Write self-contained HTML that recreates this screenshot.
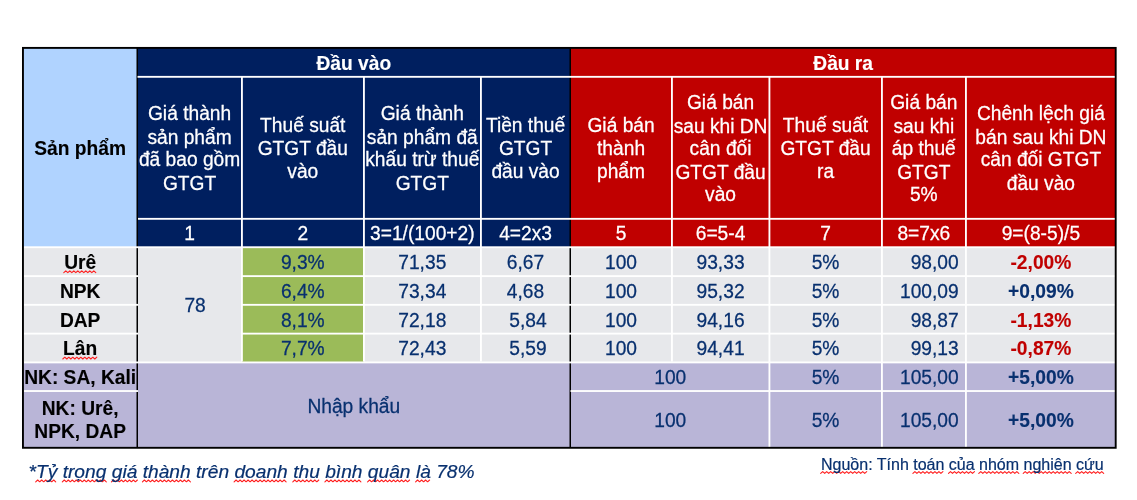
<!DOCTYPE html>
<html lang="vi"><head><meta charset="utf-8"><title>Bảng GTGT</title>
<style>
html,body{margin:0;padding:0;background:#fff;}
body{width:1137px;height:500px;position:relative;overflow:hidden;font-family:"Liberation Sans",Arial,sans-serif;font-size:19.2px;line-height:23px;}
svg{position:absolute;left:0;top:0;}
.c{position:absolute;display:flex;align-items:center;justify-content:center;text-align:center;white-space:nowrap;}
.c span{display:inline-block;-webkit-text-stroke:0.25px currentColor;}
.s1{transform:scaleY(1.04);transform-origin:50% 78.9%;}
.sm{transform:scaleY(1.02);transform-origin:50% 50%;line-height:22.55px;}
.b{font-weight:bold;}
.b span{-webkit-text-stroke-width:0.12px;}
.w{color:#fff;}
.k{color:#000;}
.d{color:#08306F;}
.r{color:#C00000;}
u{text-decoration:none;}
.n{position:absolute;white-space:nowrap;color:#08306F;-webkit-text-stroke:0.2px currentColor;}
</style></head><body>
<svg width="1137" height="500" viewBox="0 0 1137 500">
<rect x="23" y="48" width="114.5" height="199.5" fill="#B0D3FF"/>
<rect x="137.5" y="48" width="433" height="199.5" fill="#001F5F"/>
<rect x="570.5" y="48" width="545.2" height="199.5" fill="#C00000"/>
<rect x="23" y="247" width="1092.7" height="115.5" fill="#E7E8EB"/>
<rect x="242" y="247" width="121.5" height="115.5" fill="#9BBB59"/>
<rect x="23" y="362" width="1092.7" height="85.8" fill="#B9B5D7"/>
<rect x="136.5" y="48" width="1.5" height="399.8" fill="#000000"/>
<rect x="569.5" y="48" width="1.5" height="399.8" fill="#000000"/>
<rect x="241" y="76.2" width="1.85" height="285.3" fill="#FFFFFF"/>
<rect x="363" y="76.2" width="1.85" height="285.3" fill="#FFFFFF"/>
<rect x="480" y="76.2" width="1.85" height="285.3" fill="#FFFFFF"/>
<rect x="671" y="76.2" width="1.85" height="285.3" fill="#FFFFFF"/>
<rect x="768.5" y="76.2" width="1.85" height="371.2" fill="#FFFFFF"/>
<rect x="881" y="76.2" width="1.85" height="371.2" fill="#FFFFFF"/>
<rect x="965" y="76.2" width="1.85" height="371.2" fill="#FFFFFF"/>
<rect x="137.5" y="75.9" width="977.5" height="1.85" fill="#FFFFFF"/>
<rect x="138" y="217.9" width="977" height="1.85" fill="#FFFFFF"/>
<rect x="24" y="246.3" width="1091" height="1.85" fill="#FFFFFF"/>
<rect x="24" y="275.2" width="114" height="1.85" fill="#FFFFFF"/>
<rect x="241" y="275.2" width="874" height="1.85" fill="#FFFFFF"/>
<rect x="24" y="303.9" width="114" height="1.85" fill="#FFFFFF"/>
<rect x="241" y="303.9" width="874" height="1.85" fill="#FFFFFF"/>
<rect x="24" y="332.7" width="114" height="1.85" fill="#FFFFFF"/>
<rect x="241" y="332.7" width="874" height="1.85" fill="#FFFFFF"/>
<rect x="24" y="361.5" width="1091" height="1.85" fill="#FFFFFF"/>
<rect x="24" y="390.1" width="114" height="1.85" fill="#FFFFFF"/>
<rect x="570.5" y="390.1" width="544.5" height="1.85" fill="#FFFFFF"/>
<rect x="22.95" y="47.9" width="1092.75" height="399.9" fill="none" stroke="#000" stroke-width="1.9"/>
<polyline points="63.8,272.6 65.8,270.8 67.8,272.6 69.8,270.8 71.8,272.6 73.8,270.8 75.8,272.6 77.8,270.8 79.8,272.6 81.8,270.8 83.8,272.6 85.8,270.8 87.8,272.6 89.8,270.8 91.8,272.6 93.8,270.8 95.8,272.6" fill="none" stroke="#FF1E1E" stroke-width="1.1" stroke-linejoin="round" stroke-linecap="round"/>
<polyline points="62.8,359.0 64.8,357.2 66.8,359.0 68.8,357.2 70.8,359.0 72.8,357.2 74.8,359.0 76.8,357.2 78.8,359.0 80.8,357.2 82.8,359.0 84.8,357.2 86.8,359.0 88.8,357.2 90.8,359.0 92.8,357.2 94.8,359.0 96.8,357.2" fill="none" stroke="#FF1E1E" stroke-width="1.1" stroke-linejoin="round" stroke-linecap="round"/>
<polyline points="35.7,481.8 37.7,480.0 39.7,481.8 41.7,480.0 43.7,481.8 45.7,480.0 47.7,481.8 49.7,480.0 51.7,481.8 53.7,480.0 55.7,481.8" fill="none" stroke="#FF1E1E" stroke-width="1.1" stroke-linejoin="round" stroke-linecap="round"/>
<polyline points="62.3,481.8 64.3,480.0 66.3,481.8 68.3,480.0 70.3,481.8 72.3,480.0 74.3,481.8 76.3,480.0 78.3,481.8 80.3,480.0 82.3,481.8 84.3,480.0 86.3,481.8 88.3,480.0 90.3,481.8 92.3,480.0 94.3,481.8 96.3,480.0 98.3,481.8 100.3,480.0 102.3,481.8 104.3,480.0 106.3,481.8" fill="none" stroke="#FF1E1E" stroke-width="1.1" stroke-linejoin="round" stroke-linecap="round"/>
<polyline points="111.4,481.8 113.4,480.0 115.4,481.8 117.4,480.0 119.4,481.8 121.4,480.0 123.4,481.8 125.4,480.0 127.4,481.8 129.4,480.0 131.4,481.8 133.4,480.0 135.4,481.8 137.4,480.0" fill="none" stroke="#FF1E1E" stroke-width="1.1" stroke-linejoin="round" stroke-linecap="round"/>
<polyline points="142.4,481.8 144.4,480.0 146.4,481.8 148.4,480.0 150.4,481.8 152.4,480.0 154.4,481.8 156.4,480.0 158.4,481.8 160.4,480.0 162.4,481.8 164.4,480.0 166.4,481.8 168.4,480.0 170.4,481.8 172.4,480.0 174.4,481.8 176.4,480.0 178.4,481.8 180.4,480.0 182.4,481.8 184.4,480.0 186.4,481.8 188.4,480.0 190.4,481.8" fill="none" stroke="#FF1E1E" stroke-width="1.1" stroke-linejoin="round" stroke-linecap="round"/>
<polyline points="234.1,481.8 236.1,480.0 238.1,481.8 240.1,480.0 242.1,481.8 244.1,480.0 246.1,481.8 248.1,480.0 250.1,481.8 252.1,480.0 254.1,481.8 256.1,480.0 258.1,481.8 260.1,480.0 262.1,481.8 264.1,480.0 266.1,481.8 268.1,480.0 270.1,481.8 272.1,480.0 274.1,481.8 276.1,480.0 278.1,481.8 280.1,480.0 282.1,481.8 284.1,480.0 286.1,481.8" fill="none" stroke="#FF1E1E" stroke-width="1.1" stroke-linejoin="round" stroke-linecap="round"/>
<polyline points="292.8,481.8 294.8,480.0 296.8,481.8 298.8,480.0 300.8,481.8 302.8,480.0 304.8,481.8 306.8,480.0 308.8,481.8 310.8,480.0 312.8,481.8 314.8,480.0 316.8,481.8 318.8,480.0" fill="none" stroke="#FF1E1E" stroke-width="1.1" stroke-linejoin="round" stroke-linecap="round"/>
<polyline points="324.9,481.8 326.9,480.0 328.9,481.8 330.9,480.0 332.9,481.8 334.9,480.0 336.9,481.8 338.9,480.0 340.9,481.8 342.9,480.0 344.9,481.8 346.9,480.0 348.9,481.8 350.9,480.0 352.9,481.8 354.9,480.0 356.9,481.8 358.9,480.0 360.9,481.8" fill="none" stroke="#FF1E1E" stroke-width="1.1" stroke-linejoin="round" stroke-linecap="round"/>
<polyline points="367.6,481.8 369.6,480.0 371.6,481.8 373.6,480.0 375.6,481.8 377.6,480.0 379.6,481.8 381.6,480.0 383.6,481.8 385.6,480.0 387.6,481.8 389.6,480.0 391.6,481.8 393.6,480.0 395.6,481.8 397.6,480.0 399.6,481.8 401.6,480.0 403.6,481.8 405.6,480.0 407.6,481.8 409.6,480.0" fill="none" stroke="#FF1E1E" stroke-width="1.1" stroke-linejoin="round" stroke-linecap="round"/>
<polyline points="415.6,481.8 417.6,480.0 419.6,481.8 421.6,480.0 423.6,481.8 425.6,480.0 427.6,481.8 429.6,480.0" fill="none" stroke="#FF1E1E" stroke-width="1.1" stroke-linejoin="round" stroke-linecap="round"/>
<polyline points="820.7,473.4 822.7,471.6 824.7,473.4 826.7,471.6 828.7,473.4 830.7,471.6 832.7,473.4 834.7,471.6 836.7,473.4 838.7,471.6 840.7,473.4 842.7,471.6 844.7,473.4 846.7,471.6 848.7,473.4 850.7,471.6 852.7,473.4 854.7,471.6 856.7,473.4 858.7,471.6 860.7,473.4 862.7,471.6 864.7,473.4 866.7,471.6" fill="none" stroke="#FF1E1E" stroke-width="1.1" stroke-linejoin="round" stroke-linecap="round"/>
<polyline points="912.9,473.4 914.9,471.6 916.9,473.4 918.9,471.6 920.9,473.4 922.9,471.6 924.9,473.4 926.9,471.6 928.9,473.4 930.9,471.6 932.9,473.4 934.9,471.6 936.9,473.4 938.9,471.6 940.9,473.4 942.9,471.6" fill="none" stroke="#FF1E1E" stroke-width="1.1" stroke-linejoin="round" stroke-linecap="round"/>
<polyline points="948.5,473.4 950.5,471.6 952.5,473.4 954.5,471.6 956.5,473.4 958.5,471.6 960.5,473.4 962.5,471.6 964.5,473.4 966.5,471.6 968.5,473.4 970.5,471.6 972.5,473.4 974.5,471.6" fill="none" stroke="#FF1E1E" stroke-width="1.1" stroke-linejoin="round" stroke-linecap="round"/>
<polyline points="978.8,473.4 980.8,471.6 982.8,473.4 984.8,471.6 986.8,473.4 988.8,471.6 990.8,473.4 992.8,471.6 994.8,473.4 996.8,471.6 998.8,473.4 1000.8,471.6 1002.8,473.4 1004.8,471.6 1006.8,473.4 1008.8,471.6 1010.8,473.4 1012.8,471.6 1014.8,473.4 1016.8,471.6 1018.8,473.4" fill="none" stroke="#FF1E1E" stroke-width="1.1" stroke-linejoin="round" stroke-linecap="round"/>
<polyline points="1023.2,473.4 1025.2,471.6 1027.2,473.4 1029.2,471.6 1031.2,473.4 1033.2,471.6 1035.2,473.4 1037.2,471.6 1039.2,473.4 1041.2,471.6 1043.2,473.4 1045.2,471.6 1047.2,473.4 1049.2,471.6 1051.2,473.4 1053.2,471.6 1055.2,473.4 1057.2,471.6 1059.2,473.4 1061.2,471.6 1063.2,473.4 1065.2,471.6 1067.2,473.4 1069.2,471.6 1071.2,473.4" fill="none" stroke="#FF1E1E" stroke-width="1.1" stroke-linejoin="round" stroke-linecap="round"/>
<polyline points="1075.7,473.4 1077.7,471.6 1079.7,473.4 1081.7,471.6 1083.7,473.4 1085.7,471.6 1087.7,473.4 1089.7,471.6 1091.7,473.4 1093.7,471.6 1095.7,473.4 1097.7,471.6 1099.7,473.4 1101.7,471.6 1103.7,473.4" fill="none" stroke="#FF1E1E" stroke-width="1.1" stroke-linejoin="round" stroke-linecap="round"/>
</svg>
<div class="c b k" style="left:23.5px;top:49.6px;width:113.3px;height:197.4px;"><span class="s1">Sản phẩm</span></div>
<div class="c b w" style="left:137.3px;top:50.4px;width:433.0px;height:27px;"><span class="s1">Đầu vào</span></div>
<div class="c b w" style="left:571.3px;top:50.4px;width:543.7px;height:27px;"><span class="s1">Đầu ra</span></div>
<div class="c w" style="left:137.3px;top:78.8px;width:104.5px;height:140.8px;"><span class="sm">Giá thành<br>sản phẩm<br>đã bao gồm<br>GTGT</span></div>
<div class="c w" style="left:241.8px;top:78.8px;width:122.0px;height:140.8px;"><span class="sm">Thuế suất<br>GTGT đầu<br>vào</span></div>
<div class="c w" style="left:363.8px;top:78.8px;width:117.0px;height:140.8px;"><span class="sm">Giá thành<br>sản phẩm đã<br>khấu trừ thuế<br>GTGT</span></div>
<div class="c w" style="left:480.8px;top:78.8px;width:89.5px;height:140.8px;"><span class="sm">Tiền thuế<br>GTGT<br>đầu vào</span></div>
<div class="c w" style="left:570.3px;top:78.8px;width:101.5px;height:140.8px;"><span class="sm">Giá bán<br>thành<br>phẩm</span></div>
<div class="c w" style="left:671.8px;top:78.8px;width:97.5px;height:140.8px;"><span class="sm">Giá bán<br>sau khi DN<br>cân đối<br>GTGT đầu<br>vào</span></div>
<div class="c w" style="left:769.3px;top:78.8px;width:112.5px;height:140.8px;"><span class="sm">Thuế suất<br>GTGT đầu<br>ra</span></div>
<div class="c w" style="left:881.8px;top:78.8px;width:84.0px;height:140.8px;"><span class="sm">Giá bán<br>sau khi<br>áp thuế<br>GTGT<br>5%</span></div>
<div class="c w" style="left:966.8px;top:78.8px;width:148.2px;height:140.8px;"><span class="sm">Chênh lệch giá<br>bán sau khi DN<br>cân đối GTGT<br>đầu vào</span></div>
<div class="c w" style="left:137.3px;top:220.6px;width:104.5px;height:26.8px;"><span class="s1">1</span></div>
<div class="c w" style="left:241.8px;top:220.6px;width:122.0px;height:26.8px;"><span class="s1">2</span></div>
<div class="c w" style="left:363.8px;top:220.6px;width:117.0px;height:26.8px;"><span class="s1">3=1/(100+2)</span></div>
<div class="c w" style="left:480.8px;top:220.6px;width:89.5px;height:26.8px;"><span class="s1">4=2x3</span></div>
<div class="c w" style="left:570.3px;top:220.6px;width:101.5px;height:26.8px;"><span class="s1">5</span></div>
<div class="c w" style="left:671.8px;top:220.6px;width:97.5px;height:26.8px;"><span class="s1">6=5-4</span></div>
<div class="c w" style="left:769.3px;top:220.6px;width:112.5px;height:26.8px;"><span class="s1">7</span></div>
<div class="c w" style="left:881.8px;top:220.6px;width:84.0px;height:26.8px;"><span class="s1">8=7x6</span></div>
<div class="c w" style="left:966.8px;top:220.6px;width:148.2px;height:26.8px;"><span class="s1">9=(8-5)/5</span></div>
<div class="c b k" style="left:23.5px;top:249px;width:113.3px;height:27.3px;"><span class="s1"><u>Urê</u></span></div>
<div class="c d" style="left:241.8px;top:249px;width:122.0px;height:27.3px;"><span class="s1">9,3%</span></div>
<div class="c d" style="left:363.8px;top:249px;width:117.0px;height:27.3px;"><span class="s1">71,35</span></div>
<div class="c d" style="left:480.8px;top:249px;width:89.5px;height:27.3px;"><span class="s1">6,67</span></div>
<div class="c d" style="left:570.3px;top:249px;width:101.5px;height:27.3px;"><span class="s1">100</span></div>
<div class="c d" style="left:671.8px;top:249px;width:97.5px;height:27.3px;"><span class="s1">93,33</span></div>
<div class="c d" style="left:769.3px;top:249px;width:112.5px;height:27.3px;"><span class="s1">5%</span></div>
<div class="c d" style="left:881.8px;top:249px;width:84.0px;height:27.3px;justify-content:flex-end;padding-right:7.1px;box-sizing:border-box;"><span class="s1">98,00</span></div>
<div class="c b r" style="left:966.8px;top:249px;width:148.2px;height:27.3px;"><span class="s1">-2,00%</span></div>
<div class="c b k" style="left:23.5px;top:277.9px;width:113.3px;height:27.1px;"><span class="s1">NPK</span></div>
<div class="c d" style="left:241.8px;top:277.9px;width:122.0px;height:27.1px;"><span class="s1">6,4%</span></div>
<div class="c d" style="left:363.8px;top:277.9px;width:117.0px;height:27.1px;"><span class="s1">73,34</span></div>
<div class="c d" style="left:480.8px;top:277.9px;width:89.5px;height:27.1px;"><span class="s1">4,68</span></div>
<div class="c d" style="left:570.3px;top:277.9px;width:101.5px;height:27.1px;"><span class="s1">100</span></div>
<div class="c d" style="left:671.8px;top:277.9px;width:97.5px;height:27.1px;"><span class="s1">95,32</span></div>
<div class="c d" style="left:769.3px;top:277.9px;width:112.5px;height:27.1px;"><span class="s1">5%</span></div>
<div class="c d" style="left:881.8px;top:277.9px;width:84.0px;height:27.1px;justify-content:flex-end;padding-right:7.1px;box-sizing:border-box;"><span class="s1">100,09</span></div>
<div class="c b d" style="left:966.8px;top:277.9px;width:148.2px;height:27.1px;"><span class="s1">+0,09%</span></div>
<div class="c b k" style="left:23.5px;top:306.6px;width:113.3px;height:27.2px;"><span class="s1">DAP</span></div>
<div class="c d" style="left:241.8px;top:306.6px;width:122.0px;height:27.2px;"><span class="s1">8,1%</span></div>
<div class="c d" style="left:363.8px;top:306.6px;width:117.0px;height:27.2px;"><span class="s1">72,18</span></div>
<div class="c d" style="left:483.3px;top:306.6px;width:89.5px;height:27.2px;"><span class="s1">5,84</span></div>
<div class="c d" style="left:570.3px;top:306.6px;width:101.5px;height:27.2px;"><span class="s1">100</span></div>
<div class="c d" style="left:671.8px;top:306.6px;width:97.5px;height:27.2px;"><span class="s1">94,16</span></div>
<div class="c d" style="left:769.3px;top:306.6px;width:112.5px;height:27.2px;"><span class="s1">5%</span></div>
<div class="c d" style="left:881.8px;top:306.6px;width:84.0px;height:27.2px;justify-content:flex-end;padding-right:7.1px;box-sizing:border-box;"><span class="s1">98,87</span></div>
<div class="c b r" style="left:966.8px;top:306.6px;width:148.2px;height:27.2px;"><span class="s1">-1,13%</span></div>
<div class="c b k" style="left:23.5px;top:335.4px;width:113.3px;height:27.2px;"><span class="s1"><u>Lân</u></span></div>
<div class="c d" style="left:241.8px;top:335.4px;width:122.0px;height:27.2px;"><span class="s1">7,7%</span></div>
<div class="c d" style="left:363.8px;top:335.4px;width:117.0px;height:27.2px;"><span class="s1">72,43</span></div>
<div class="c d" style="left:483.3px;top:335.4px;width:89.5px;height:27.2px;"><span class="s1">5,59</span></div>
<div class="c d" style="left:570.3px;top:335.4px;width:101.5px;height:27.2px;"><span class="s1">100</span></div>
<div class="c d" style="left:671.8px;top:335.4px;width:97.5px;height:27.2px;"><span class="s1">94,41</span></div>
<div class="c d" style="left:769.3px;top:335.4px;width:112.5px;height:27.2px;"><span class="s1">5%</span></div>
<div class="c d" style="left:881.8px;top:335.4px;width:84.0px;height:27.2px;justify-content:flex-end;padding-right:7.1px;box-sizing:border-box;"><span class="s1">99,13</span></div>
<div class="c b r" style="left:966.8px;top:335.4px;width:148.2px;height:27.2px;"><span class="s1">-0,87%</span></div>
<div class="c d" style="left:142.8px;top:249px;width:104.5px;height:113.6px;"><span class="s1">78</span></div>
<div class="c b k" style="left:23.5px;top:364.0px;width:113.3px;height:27.0px;"><span class="s1">NK: SA, Kali</span></div>
<div class="c b k" style="left:23.5px;top:393.9px;width:113.3px;height:54.2px;"><span class="sm">NK: Urê,<br>NPK, DAP</span></div>
<div class="c d" style="left:137.3px;top:365.2px;width:433.0px;height:82.8px;"><span class="s1">Nhập khẩu</span></div>
<div class="c d" style="left:570.8px;top:364.0px;width:199.0px;height:27.0px;"><span class="s1">100</span></div>
<div class="c d" style="left:769.3px;top:364.0px;width:112.5px;height:27.0px;"><span class="s1">5%</span></div>
<div class="c d" style="left:881.8px;top:364.0px;width:84.0px;height:27.0px;justify-content:flex-end;padding-right:7.1px;box-sizing:border-box;"><span class="s1">105,00</span></div>
<div class="c b d" style="left:966.8px;top:364.0px;width:148.2px;height:27.0px;"><span class="s1">+5,00%</span></div>
<div class="c d" style="left:570.8px;top:393.0px;width:199.0px;height:54.2px;"><span class="s1">100</span></div>
<div class="c d" style="left:769.3px;top:393.0px;width:112.5px;height:54.2px;"><span class="s1">5%</span></div>
<div class="c d" style="left:881.8px;top:393.0px;width:84.0px;height:54.2px;justify-content:flex-end;padding-right:7.1px;box-sizing:border-box;"><span class="s1">105,00</span></div>
<div class="c b d" style="left:966.8px;top:393.0px;width:148.2px;height:54.2px;"><span class="s1">+5,00%</span></div>
<div class="n" style="left:28.5px;top:459.6px;font-style:italic;font-size:19.2px;">*<u>Tỷ</u> <u>trọng</u> <u>giá</u> <u>thành</u> trên <u>doanh</u> <u>thu</u> <u>bình</u> <u>quân</u> <u>là</u> 78%</div>
<div class="n" style="left:821px;top:453px;font-size:16px;"><u>Nguồn</u>: Tính <u>toán</u> <u>của</u> <u>nhóm</u> <u>nghiên</u> <u>cứu</u></div>
</body></html>
